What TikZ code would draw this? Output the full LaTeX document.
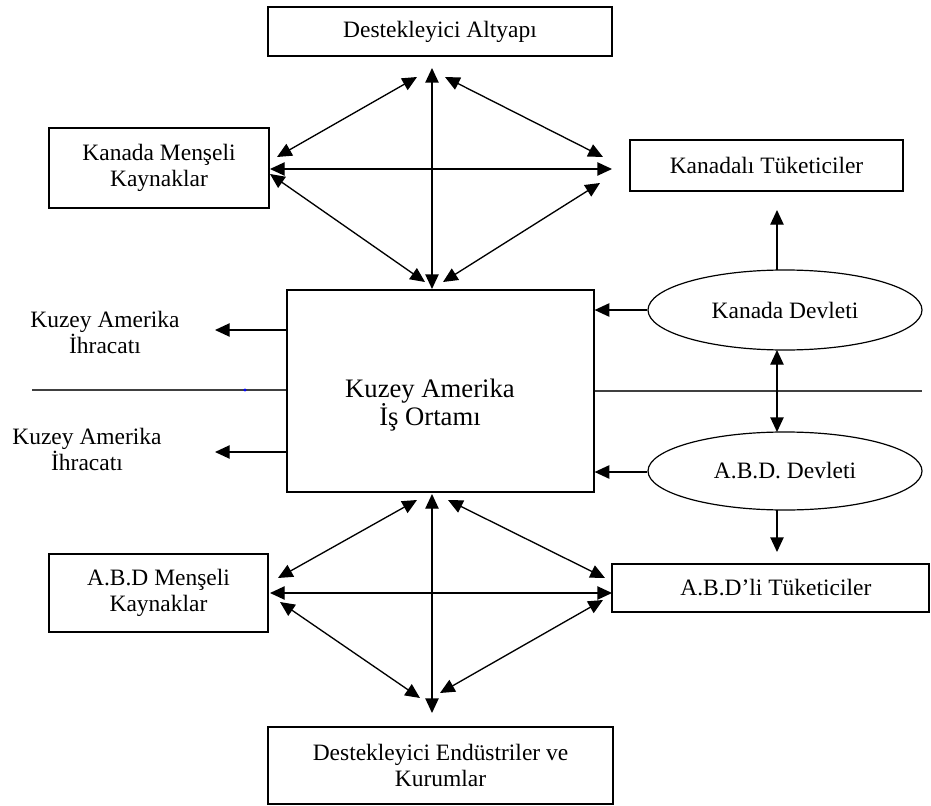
\documentclass[tikz,border=0pt]{standalone}
\usepackage{fontspec}
\setmainfont{Liberation Serif}
\usetikzlibrary{arrows.meta,shapes.geometric,calc}

\tikzset{
  box/.style={draw, line width=0.9pt, inner sep=0pt, align=center,
    font=\fontsize{17.6pt}{19.5pt}\selectfont},
  oval/.style={draw, ellipse, line width=0.9pt, inner sep=0pt, align=center,
    font=\fontsize{17.6pt}{19.5pt}\selectfont},
  txt/.style={align=center, inner sep=0pt, font=\fontsize{17.6pt}{19.5pt}\selectfont},
  tip/.style={Triangle[length=11pt,width=10pt]},
  link/.style={line width=1pt, -{Triangle[length=11pt,width=10pt]}},
  dlink/.style={line width=1pt, {Triangle[length=11pt,width=10pt]}-{Triangle[length=11pt,width=10pt]}},
  divider/.style={line width=1pt, draw=black!75}
}

\begin{document}
\begin{tikzpicture}[x=0.75pt,y=-0.75pt]
\useasboundingbox (0,0) rectangle (931,806);

% ---- nodes ----
\node[box, minimum width=258pt, minimum height=36.75pt] (infra) at (440,31.5) {Destekleyici Altyapı};
\node[box, minimum width=165pt, minimum height=60pt] (caRes) at (159,168) {Kanada Menşeli\\Kaynaklar};
\node[box, minimum width=204.75pt, minimum height=38.25pt] (caCons) at (766.5,165.5) {Kanadalı Tüketiciler};
\node[box, minimum width=230.25pt, minimum height=151.5pt] (core) at (440.5,391) {};
\node[txt, font=\fontsize{20pt}{21pt}\selectfont] (coreText) at (430,405) {Kuzey Amerika\\İş Ortamı};
\node[oval, minimum width=205.5pt, minimum height=60pt] (caGov) at (785,310) {Kanada Devleti};
\node[oval, minimum width=205.5pt, minimum height=58.5pt] (usGov) at (785,471) {A.B.D. Devleti};
\node[box, minimum width=164.25pt, minimum height=58.5pt] (usRes) at (158.5,593) {A.B.D Menşeli\\Kaynaklar};
\node[box, minimum width=237.75pt, minimum height=36pt] (usCons) at (770.5,588) {\hspace*{8pt}A.B.D’li Tüketiciler};
\node[box, minimum width=258.75pt, minimum height=57.75pt] (ind) at (440.5,765.5) {Destekleyici Endüstriler ve\\Kurumlar};
\node[txt] (exp1) at (105,332) {Kuzey Amerika\\İhracatı};
\node[txt] (exp2) at (87,449) {Kuzey Amerika\\İhracatı};

% ---- free arrow ends ----
\coordinate (tTop) at (432,68);
\coordinate (tBot) at (432,289);
\coordinate (tUL1) at (277,157);  \coordinate (tUL2) at (417,77);
\coordinate (tUR1) at (445,77);   \coordinate (tUR2) at (603,157);
\coordinate (tHL) at (270,169);   \coordinate (tHR) at (612,169);
\coordinate (tLL1) at (270,174);  \coordinate (tLL2) at (425,282);
\coordinate (tLR1) at (443,282);  \coordinate (tLR2) at (600,183);

\coordinate (bTop) at (432,494);
\coordinate (bBot) at (432,713);
\coordinate (bUL1) at (417,500);  \coordinate (bUL2) at (278,578);
\coordinate (bUR1) at (448,500);  \coordinate (bUR2) at (605,578);
\coordinate (bHL) at (270,593);   \coordinate (bHR) at (612,593);
\coordinate (bLL1) at (280,602);  \coordinate (bLL2) at (420,698);
\coordinate (bLR1) at (603,600);  \coordinate (bLR2) at (440,693);

\coordinate (caGovTop) at (777,270);
\coordinate (caConsTip) at (777,210);
\coordinate (caGovBot) at (777,350);
\coordinate (usGovTop) at (777,432);
\coordinate (usGovBot) at (777,510);
\coordinate (usConsTip) at (777,552);
\coordinate (exp1Tip) at (215,330);
\coordinate (exp2Tip) at (215,452);
\coordinate (lineL) at (32,390);
\coordinate (lineR) at (922,391);

% ---- upper cluster ----
\draw[dlink] (tBot) -- (tTop);
\draw[dlink] (tUL1) -- (tUL2);
\draw[dlink] (tUR1) -- (tUR2);
\draw[dlink] (tHL) -- (tHR);
\draw[dlink] (tLL1) -- (tLL2);
\draw[dlink] (tLR1) -- (tLR2);

% ---- lower cluster ----
\draw[dlink] (bTop) -- (bBot);
\draw[dlink] (bUL1) -- (bUL2);
\draw[dlink] (bUR1) -- (bUR2);
\draw[dlink] (bHL) -- (bHR);
\draw[dlink] (bLL1) -- (bLL2);
\draw[dlink] (bLR1) -- (bLR2);

% ---- divider through the core ----
\draw[divider] (lineL) -- (lineL -| core.west);
\draw[divider] (lineR -| core.east) -- (lineR);
\fill[blue] (245,390) circle[radius=1.2pt];

% ---- governments ----
\draw[link] (caGov.west) -- (caGov.west -| core.east);
\draw[link] (usGov.west |- 0,472) -- (core.east |- 0,472);
\draw[dlink] (caGovBot) -- (usGovTop);
\draw[link] (caGovTop) -- (caConsTip);
\draw[link] (usGovBot) -- (usConsTip);

% ---- exports ----
\draw[link] (exp1Tip -| core.west) -- (exp1Tip);
\draw[link] (exp2Tip -| core.west) -- (exp2Tip);
\end{tikzpicture}
\end{document}
